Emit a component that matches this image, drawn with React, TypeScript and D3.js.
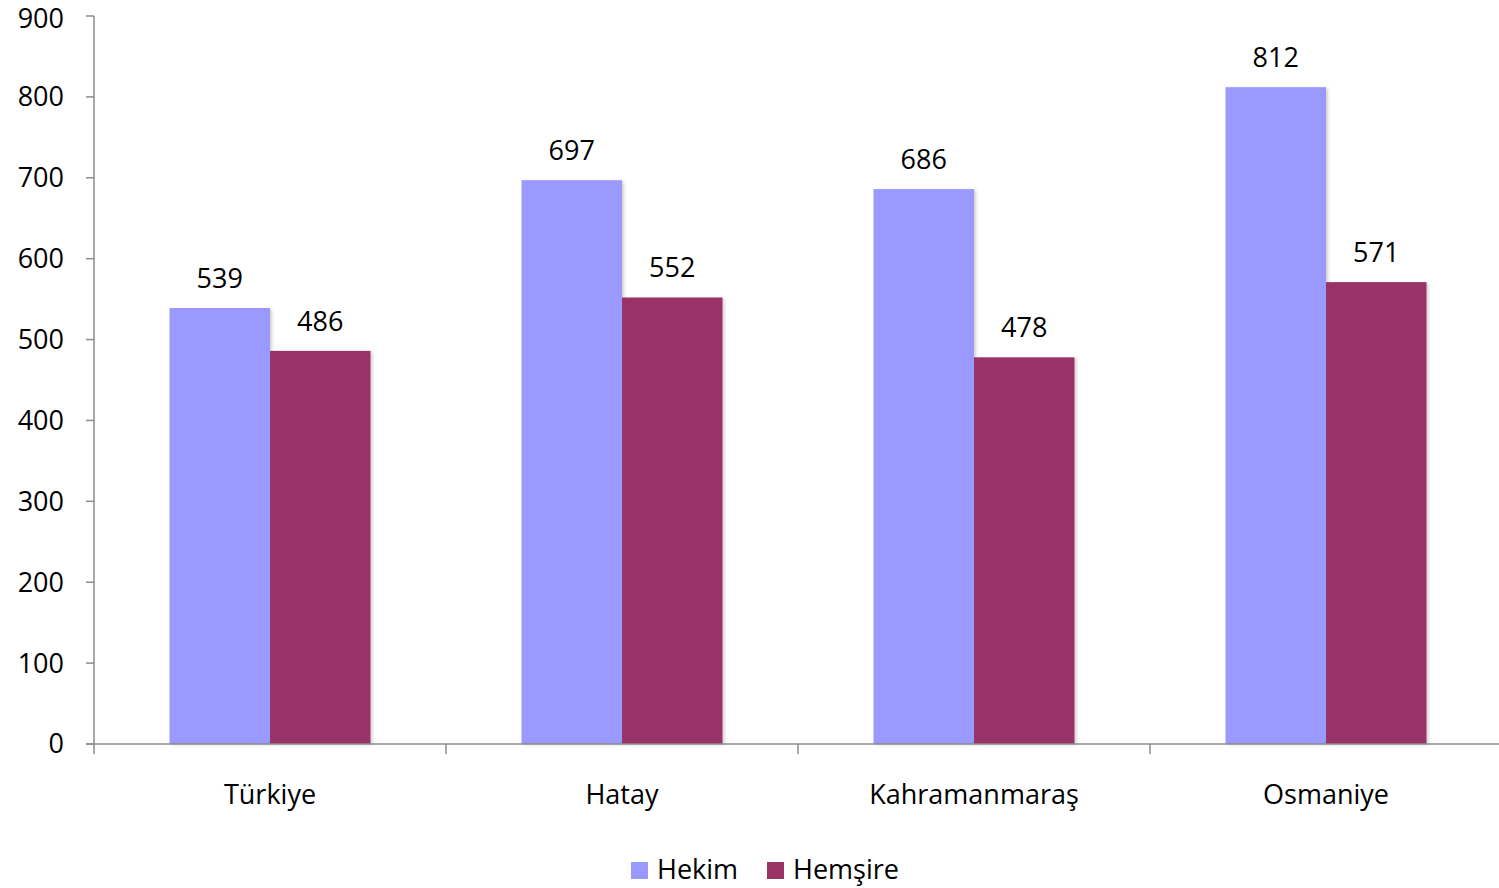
import React from "react";
import * as d3 from "d3";

const categories = ["Türkiye", "Hatay", "Kahramanmaraş", "Osmaniye"];
const hekim = [539, 697, 686, 812];
const hemsire = [486, 552, 478, 571];
const seriesNames = ["Hekim", "Hemşire"];
const seriesColors = ["#9999FF", "#993366"];
const yTicks = [0, 100, 200, 300, 400, 500, 600, 700, 800, 900];

const W = 1499;
const H = 888;
const left = 94;
const right = 1502;
const top = 16;
const bottom = 744;
const FONT = "Open Sans, Calibri, sans-serif";
const FS = 27;

export default function App() {
  const x = d3.scaleBand<string>().domain(categories).range([left, right]).paddingInner(0).paddingOuter(0);
  const y = d3.scaleLinear().domain([0, 900]).range([bottom, top]);
  const barW = x.bandwidth() * 0.2855;
  const offset = (x.bandwidth() - 2 * barW) / 2;
  const series = [hekim, hemsire];
  const axisColor = "#8c8c8c";
  const boundaries = categories.map((c) => x(c)!).concat([right]);

  return (
    <svg width={W} height={H} style={{ position: "absolute", left: 0, top: 0, background: "#fff" }} fontFamily={FONT}>
      <defs>
        <filter id="sh" x="-10%" y="-10%" width="130%" height="130%">
          <feDropShadow dx="2" dy="1" stdDeviation="1.5" floodColor="#000" floodOpacity="0.18" />
        </filter>
      </defs>
      {series.map((vals, si) =>
        categories.map((c, i) => (
          <rect
            key={`${si}-${i}`}
            x={x(c)! + offset + si * barW}
            y={y(vals[i])}
            width={barW}
            height={bottom - y(vals[i])}
            fill={seriesColors[si]}
            filter="url(#sh)"
          />
        ))
      )}
      {series.map((vals, si) =>
        categories.map((c, i) => (
          <text
            key={`l${si}-${i}`}
            x={x(c)! + offset + si * barW + barW / 2}
            y={y(vals[i]) - 20}
            textAnchor="middle"
            fontSize={FS}
            fill="#000"
          >
            {vals[i]}
          </text>
        ))
      )}
      <line x1={left} x2={left} y1={top} y2={bottom} stroke={axisColor} strokeWidth={1.5} />
      {yTicks.map((t) => (
        <g key={t}>
          <line x1={left - 8} x2={left} y1={y(t)} y2={y(t)} stroke={axisColor} strokeWidth={1.5} />
          <text x={64} y={Math.max(y(t), 19)} dy="0.35em" textAnchor="end" fontSize={FS} fill="#000">
            {t}
          </text>
        </g>
      ))}
      <line x1={left - 8} x2={W} y1={bottom} y2={bottom} stroke={axisColor} strokeWidth={1.5} />
      {boundaries.map((b, i) => (
        <line key={i} x1={b} x2={b} y1={bottom} y2={bottom + 10} stroke={axisColor} strokeWidth={1.5} />
      ))}
      {categories.map((c) => (
        <text key={c} x={x(c)! + x.bandwidth() / 2} y={795} dy="0.35em" textAnchor="middle" fontSize={FS} fill="#000">
          {c}
        </text>
      ))}
      {seriesNames.map((n, i) => {
        const lx = [631, 767][i];
        return (
          <g key={n}>
            <rect x={lx} y={862} width={17} height={17} fill={seriesColors[i]} />
            <text x={lx + 26} y={870} dy="0.35em" fontSize={FS} fill="#000">
              {n}
            </text>
          </g>
        );
      })}
    </svg>
  );
}
